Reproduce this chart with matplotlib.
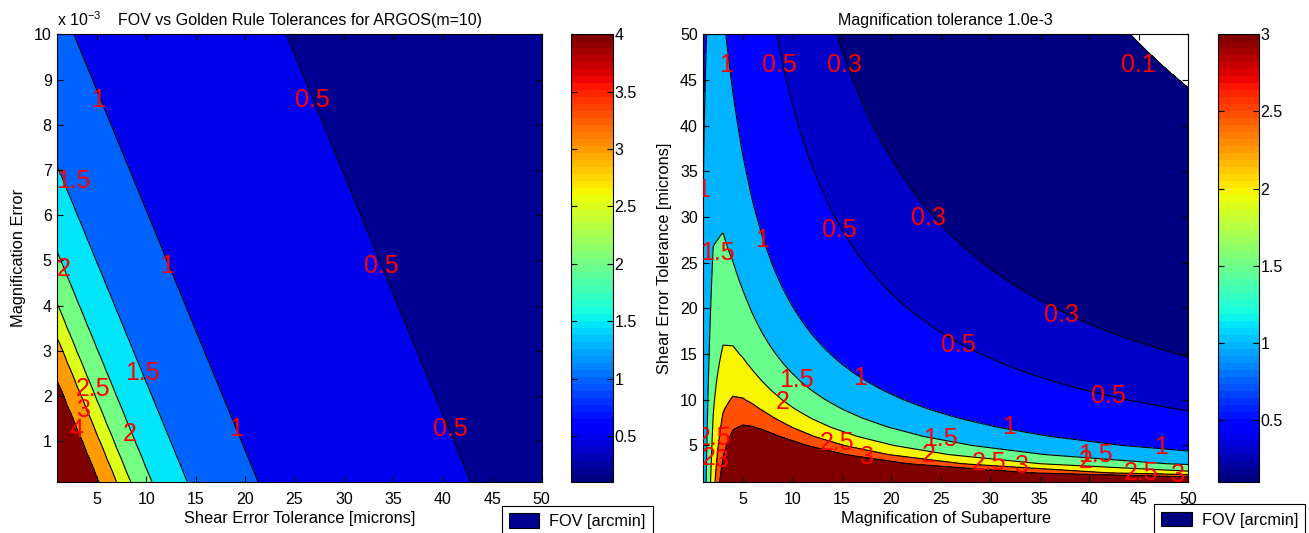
import numpy as np
import matplotlib
matplotlib.use("Agg")
import matplotlib.pyplot as plt
from matplotlib.colors import Normalize
from matplotlib.cm import ScalarMappable
from matplotlib.patches import Patch

plt.rcParams['font.family'] = ['Liberation Sans', 'DejaVu Sans']
plt.rcParams['mathtext.fontset'] = 'custom'
plt.rcParams['mathtext.rm'] = 'Liberation Sans'

# ---------------- data: left panel (m = 10) ----------------
shear_left = np.arange(1, 51)              # shear error tolerance [microns]
mag_err = np.arange(1, 101) * 1e-4         # magnification error
subap_mag_left = 10
alpha_left = 0.00465                       # shear coefficient
kerr_left = 876.0                          # magnification-error coefficient
levels_left = [0.2, 0.5, 1, 1.5, 2, 2.5, 3, 4]
cbar_ticks_left = [0.5, 1, 1.5, 2, 2.5, 3, 3.5, 4]
clim_left = (0.1, 4.0)
xticks_left = [5, 10, 15, 20, 25, 30, 35, 40, 45, 50]
yticks_left = [1, 2, 3, 4, 5, 6, 7, 8, 9, 10]   # x 1e-3

# ---------------- data: right panel (mag tol 1e-3) ----------------
magnif = np.arange(1, 51)                  # magnification of subaperture
shear_right = np.arange(1, 51)             # shear error tolerance [microns]
mag_tol_right = 1.0e-3
alpha_right = 0.00452
kerr_right = 850.0
levels_right = [0.1, 0.3, 0.5, 1, 1.5, 2, 2.5, 3]
cbar_ticks_right = [0.5, 1, 1.5, 2, 2.5, 3]
clim_right = (0.1, 3.0)
xticks_right = [5, 10, 15, 20, 25, 30, 35, 40, 45, 50]
yticks_right = [5, 10, 15, 20, 25, 30, 35, 40, 45, 50]

# contour-label positions (data coords)
labels_left = {
    1:   [(5.1, 8.54e-3), (12.1, 4.88e-3), (19.1, 1.27e-3)],
    0.5: [(26.8, 8.54e-3), (33.8, 4.88e-3), (40.8, 1.27e-3)],
    1.5: [(2.6, 6.76e-3), (9.6, 2.51e-3)],
    2:   [(1.6, 4.82e-3), (8.3, 1.16e-3)],
    2.5: [(4.6, 2.15e-3)],
    3:   [(3.7, 1.7e-3)],
    4:   [(2.9, 1.26e-3)],
}
labels_right = {
    0.1: [(45.0, 46.6)],
    0.3: [(15.3, 46.6), (23.8, 29.9), (37.2, 19.3)],
    0.5: [(8.7, 46.6), (14.75, 28.6), (26.8, 16.0), (42.0, 10.4)],
    1:   [(3.3, 46.6), (1.0, 33.0), (6.9, 27.5), (16.8, 12.4), (31.9, 7.0), (47.3, 4.8)],
    1.5: [(2.4, 26.1), (10.4, 12.2), (25.0, 5.7), (40.6, 4.0)],
    2:   [(9.0, 9.8), (23.8, 4.0), (39.7, 3.3), (1.5, 3.6)],
    2.5: [(14.5, 5.3), (29.9, 3.1), (45.3, 2.0), (2.1, 5.8)],
    3:   [(17.5, 3.7), (33.2, 2.7), (49.0, 1.8), (2.9, 3.4)],
}


def fov(m, s, e, alpha, kerr):
    """FOV [arcmin] from subaperture magnification, shear and mag error."""
    return m / (alpha * m ** 2 * s + kerr * e)


W, H = 1309, 533
fig = plt.figure(figsize=(W / 100, H / 100), dpi=100)
FS = 11.8
TFS = 11.5
LFS = 18
jet = plt.get_cmap('jet', 64)


def fr(x0, y0, x1, y1):
    return [x0 / W, 1 - y1 / H, (x1 - x0) / W, (y1 - y0) / H]


def panel(ax, cax, X, Y, Z, levels, clim, cbticks):
    norm = Normalize(*clim)
    top = float(np.nanmax(Z)) + 1.0
    fill_levels = list(levels) + [top]
    cols = [jet(norm(v)) for v in levels]
    ax.contourf(X, Y, Z, levels=fill_levels, colors=cols)
    cl = ax.contour(X, Y, Z, levels=levels, colors='k', linewidths=0.8)
    sm = ScalarMappable(norm=norm, cmap=jet)
    cb = fig.colorbar(sm, cax=cax)
    cb.set_ticks(cbticks)
    cb.set_ticklabels([f'{v:g}' for v in cbticks])
    cax.tick_params(direction='in', left=True, right=True, length=4,
                    labelsize=TFS, width=0.8, pad=1)
    cb.outline.set_linewidth(0.8)
    ax.tick_params(direction='in', top=True, right=True, length=4,
                   labelsize=TFS, width=0.8)
    ax.tick_params(axis='x', pad=7)
    ax.tick_params(axis='y', pad=4)
    for sp in ax.spines.values():
        sp.set_linewidth(0.8)
    return cols, cl


def place_labels(ax, labpos):
    for lev, pts in labpos.items():
        for (x, y) in pts:
            ax.text(x, y, f'{lev:g}', color='red', fontsize=LFS,
                    ha='center', va='center', clip_on=True, zorder=5)


def add_legend(color, x0, y0):
    leg = fig.legend(handles=[Patch(facecolor=color, edgecolor='k', linewidth=0.8)],
                     labels=['FOV [arcmin]'], loc='upper left',
                     bbox_to_anchor=(x0 / W, 1 - y0 / H), borderaxespad=0,
                     fontsize=FS, fancybox=False, edgecolor='k', framealpha=1,
                     handlelength=1.85, handleheight=1.0, handletextpad=0.6,
                     borderpad=0.45)
    leg.get_frame().set_linewidth(0.8)
    return leg


# ---------------- left panel ----------------
axL = fig.add_axes(fr(57.3, 34.3, 541.7, 482))
caxL = fig.add_axes(fr(571, 34.3, 613, 482))
XL, YL = np.meshgrid(shear_left, mag_err)
ZL = fov(subap_mag_left, XL, YL, alpha_left, kerr_left)
colsL, clL = panel(axL, caxL, XL, YL, ZL, levels_left, clim_left, cbar_ticks_left)
axL.set_xlim(1, 50)
axL.set_ylim(mag_err[0], mag_err[-1])
axL.set_xticks(xticks_left)
axL.set_yticks([v * 1e-3 for v in yticks_left])
axL.set_yticklabels([str(v) for v in yticks_left])
axL.set_xlabel('Shear Error Tolerance [microns]', fontsize=FS, labelpad=3)
axL.set_ylabel('Magnification Error', fontsize=FS, labelpad=6)
axL.set_title('FOV vs Golden Rule Tolerances for ARGOS(m=10)', fontsize=TFS, pad=7)
axL.text(0.0, 1.012, r'x 10$^{\mathrm{-3}}$', transform=axL.transAxes,
         ha='left', va='bottom', fontsize=TFS)
place_labels(axL, labels_left)
add_legend(colsL[0], 501.7, 505.7)

# ---------------- right panel ----------------
axR = fig.add_axes(fr(703.3, 34.3, 1188, 482))
caxR = fig.add_axes(fr(1217.7, 34.3, 1259.3, 482))
MR, SR = np.meshgrid(magnif, shear_right)
ZR = fov(MR, SR, mag_tol_right, alpha_right, kerr_right)
colsR, clR = panel(axR, caxR, MR, SR, ZR, levels_right, clim_right, cbar_ticks_right)
axR.set_xlim(1, 50)
axR.set_ylim(1, 50)
axR.set_xticks(xticks_right)
axR.set_yticks(yticks_right)
axR.set_xlabel('Magnification of Subaperture', fontsize=FS, labelpad=3)
axR.set_ylabel('Shear Error Tolerance [microns]', fontsize=FS, labelpad=6)
axR.set_title('Magnification tolerance 1.0e-3', fontsize=TFS, pad=7)
place_labels(axR, labels_right)
add_legend(colsR[0], 1154, 504.3)

fig.savefig('out.png', dpi=100)
